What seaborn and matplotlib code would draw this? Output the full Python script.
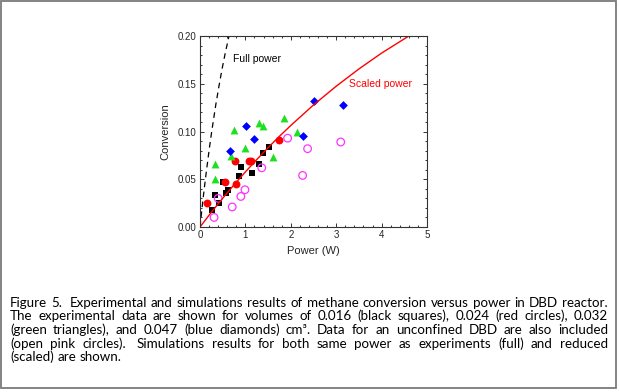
import re
import matplotlib
matplotlib.use('Agg')
import matplotlib.pyplot as plt
from matplotlib.patches import Rectangle
from matplotlib.ticker import MultipleLocator
import seaborn as sns

sq_x = [0.26, 0.33, 0.42, 0.50, 0.57, 0.61, 0.86, 0.90, 1.15, 1.31, 1.38, 1.52]
sq_y = [0.018, 0.033, 0.025, 0.047, 0.036, 0.039, 0.053, 0.063, 0.057, 0.066, 0.078, 0.084]

red_x = [0.16, 0.55, 0.77, 0.79, 1.08, 1.12, 1.73]
red_y = [0.025, 0.047, 0.069, 0.045, 0.069, 0.069, 0.091]

tri_x = [0.33, 0.33, 0.68, 0.74, 0.99, 1.31, 1.38, 1.60, 1.85, 2.13]
tri_y = [0.066, 0.050, 0.074, 0.102, 0.083, 0.109, 0.106, 0.073, 0.114, 0.100]

dia_x = [0.65, 1.01, 1.20, 2.26, 2.51, 3.15]
dia_y = [0.080, 0.106, 0.092, 0.095, 0.132, 0.128]

open_x = [0.31, 0.40, 0.71, 0.90, 0.99, 1.36, 1.93, 2.26, 2.37, 3.10]
open_y = [0.010, 0.030, 0.021, 0.032, 0.039, 0.062, 0.093, 0.054, 0.082, 0.089]

# simulation curves
scaled_x = [0, 0.25, 0.5, 0.75, 1.0, 1.25, 1.5, 1.75, 2.0, 2.5, 3.0, 3.5, 4.0, 4.6]
scaled_y = [0, 0.0154, 0.0301, 0.0442, 0.0577, 0.0706, 0.0831, 0.0950, 0.1063,
            0.1278, 0.1474, 0.1655, 0.1821, 0.2000]
full_x = [0, 0.035, 0.069, 0.104, 0.139, 0.174, 0.208, 0.243, 0.278, 0.347,
          0.417, 0.486, 0.556, 0.639]
full_y = scaled_y

caption = [
    "Figure 5.  Experimental and simulations results of methane conversion versus power in DBD reactor.",
    "The experimental data are shown for volumes of 0.016 (black squares), 0.024 (red circles), 0.032",
    "(green triangles), and 0.047 (blue diamonds) cm\u00b3. Data for an unconfined DBD are also included",
    "(open pink circles).  Simulations results for both same power as experiments (full) and reduced",
    "(scaled) are shown.",
]

sns.set_style('ticks')
plt.rcParams['font.family'] = ['Liberation Sans', 'DejaVu Sans']

fig = plt.figure(figsize=(6.2, 3.92), dpi=100)
ax = fig.add_axes([200 / 620, 1 - 227 / 392, 227 / 620, 191 / 392])

sns.lineplot(x=full_x, y=full_y, ax=ax, color='black', lw=0.9, sort=False,
             linestyle=(0, (4.5, 3.5)))
sns.lineplot(x=scaled_x, y=scaled_y, ax=ax, color='#ff0000', lw=1.0, sort=False)

sns.scatterplot(x=sq_x, y=sq_y, ax=ax, marker='s', s=24, color='black', linewidth=0)
sns.scatterplot(x=red_x, y=red_y, ax=ax, marker='o', s=32, color='#ff0000', linewidth=0)
sns.scatterplot(x=tri_x, y=tri_y, ax=ax, marker='^', s=32, color='#1fe01f', linewidth=0)
sns.scatterplot(x=dia_x, y=dia_y, ax=ax, marker='D', s=20, color='#0000ff', linewidth=0)
sns.scatterplot(x=open_x, y=open_y, ax=ax, marker='o', s=30, facecolors='none',
                edgecolor='#ff33ff', linewidth=0.9)

ax.set_xlim(0, 5)
ax.set_ylim(0, 0.20)
ax.xaxis.set_minor_locator(MultipleLocator(0.2))
ax.yaxis.set_minor_locator(MultipleLocator(0.01))
ax.set_yticks([0, 0.05, 0.10, 0.15, 0.20])
ax.set_yticklabels(['0.00', '0.05', '0.10', '0.15', '0.20'])
ax.set_xticks([0, 1, 2, 3, 4, 5])
ax.set_xticklabels(['0', '1', '2', '3', '4', '5'])
ax.tick_params(which='both', direction='in', top=True, right=True,
               labelsize=7, width=0.7, color='#333333', pad=2.5)
ax.tick_params(which='major', length=3)
ax.tick_params(which='minor', length=1.6)
for sp in ax.spines.values():
    sp.set_linewidth(0.8)
    sp.set_color('#333333')

ax.set_xlabel('Power (W)', fontsize=8)
ax.set_ylabel('Conversion', fontsize=8)
ax.xaxis.set_label_coords(0.5, -0.10)
ax.xaxis.label.set_va('top')
ax.yaxis.set_label_coords(-0.154, 0.5)
ax.yaxis.label.set_va('center')

ax.text(0.72, 0.176, 'Full power', fontsize=7.5, color='black', va='center')
ax.text(3.29, 0.1497, 'Scaled power', fontsize=7.5, color='#ff0000', va='center')

# border round the whole figure
fig.patches.append(Rectangle((0.8 / 620, 4 / 392), 615 / 620, 387 / 392,
                             transform=fig.transFigure, fill=False,
                             edgecolor='#7a7a7a', lw=1.3))

# justified caption, word by word
renderer = fig.canvas.get_renderer()
left, right = 10, 608
baselines = [306.8, 320.5, 334.0, 347.5, 361.0]

# size the font so the first line nearly fills the width on its own
probe = fig.text(0, 0, caption[0], family=['Lato', 'DejaVu Sans'], fontsize=10)
cap_size = 10 * (right - left - 6) / probe.get_window_extent(renderer).width
probe.remove()

cap_font = dict(family=['Lato', 'DejaVu Sans'], fontsize=cap_size, color='black', va='baseline')
space_t = fig.text(0, 0, 'a a', **cap_font)
aa_t = fig.text(0, 0, 'aa', **cap_font)
sw = space_t.get_window_extent(renderer).width - aa_t.get_window_extent(renderer).width
space_t.remove()
aa_t.remove()

for i, line in enumerate(caption):
    parts = re.split(r'( +)', line)
    words = parts[0::2]
    spaces = [len(p) for p in parts[1::2]]
    ypos = 1 - baselines[i] / 392
    texts = [fig.text(0, ypos, w, **cap_font) for w in words]
    widths = [t.get_window_extent(renderer).width for t in texts]
    if i < len(caption) - 1:
        extra = sum((n - 1) * sw for n in spaces)
        g = (right - left - sum(widths) - extra) / len(spaces)
    else:
        g = sw
    x = left
    for j, t in enumerate(texts):
        t.set_x(x / 620)
        x += widths[j]
        if j < len(spaces):
            x += g + (spaces[j] - 1) * sw

fig.savefig('out.png', dpi=100)
